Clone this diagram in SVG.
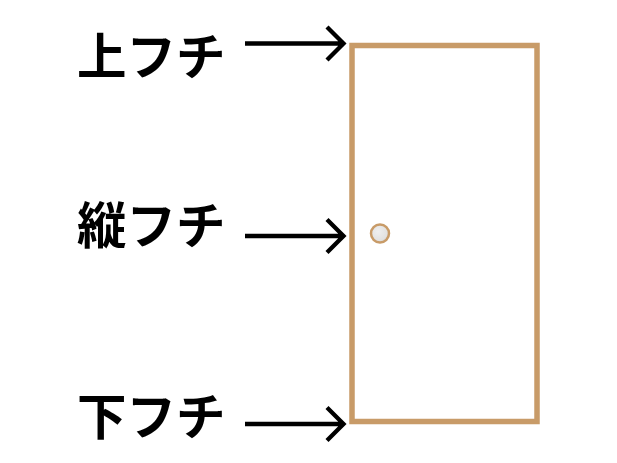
<svg xmlns="http://www.w3.org/2000/svg" width="617" height="463" viewBox="0 0 617 463">
<style>
.lbl{font-family:"Noto Sans CJK JP","Noto Sans",sans-serif;font-weight:bold;font-size:49.5px;fill:#000}
.arr{fill:none;stroke:#000;stroke-width:4.3;stroke-linecap:butt;stroke-linejoin:miter}
</style>
<defs>
<radialGradient id="knob" cx="0.4" cy="0.4" r="0.7">
<stop offset="0" stop-color="#efefef"/>
<stop offset="0.7" stop-color="#e2e2e2"/>
<stop offset="1" stop-color="#cfcfcf"/>
</radialGradient>
</defs>
<rect width="617" height="463" fill="#fff"/>
<g id="door">
<rect x="352" y="45.5" width="185" height="376" fill="#fff" stroke="#C89B68" stroke-width="5.5"/>
<circle cx="380" cy="233.5" r="9" fill="url(#knob)" stroke="#C89B68" stroke-width="2.5"/>
</g>
<g id="label-top"><text class="lbl" x="77" y="74.5">上フチ</text></g>
<g id="label-mid"><text class="lbl" x="77" y="244">縦フチ</text></g>
<g id="label-bot"><text class="lbl" x="77" y="434.5">下フチ</text></g>
<g id="connectors">
<path class="arr" d="M245 43.5H343M327 27L343.5 43.5L327 60"/>
<path class="arr" d="M245 236H343M327 219.5L343.5 236L327 252.5"/>
<path class="arr" d="M245 424H343M327 407.5L343.5 424L327 440.5"/>
</g>
</svg>
